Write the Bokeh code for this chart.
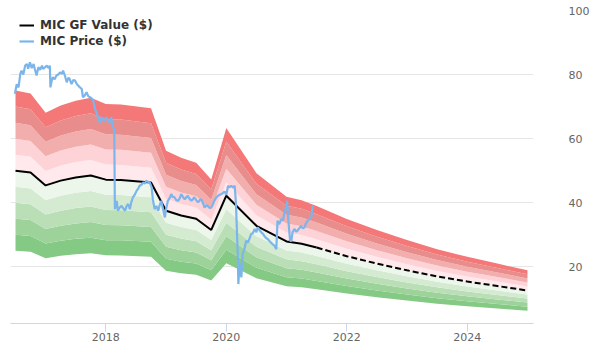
from bokeh.plotting import figure
from bokeh.models import Range1d, FixedTicker, Legend, LegendItem
from bokeh.embed import file_html
from bokeh.resources import INLINE

# GF Value (historic, solid)
gf_t = [2016.5, 2016.75, 2017.0, 2017.25, 2017.5, 2017.75, 2018.0, 2018.25, 2018.75,
        2019.0, 2019.25, 2019.5, 2019.75, 2020.0, 2020.5, 2021.0, 2021.25, 2021.5]
gf_v = [50.0, 49.4, 45.4, 46.9, 47.9, 48.5, 47.2, 47.1, 46.3,
        37.5, 36.0, 35.0, 31.5, 42.2, 32.8, 27.9, 27.2, 26.0]

# GF Value (projection, dashed)
proj_t = [2021.5, 2022.0, 2022.5, 2023.0, 2023.5, 2024.0, 2024.5, 2025.0]
proj_v = [26.0, 23.3, 21.0, 18.9, 17.0, 15.4, 14.0, 12.6]

# band multipliers and colours (from lowest to highest band)
band_factors = [0.5, 0.6, 0.7, 0.8, 0.9, 1.0, 1.1, 1.2, 1.3, 1.4, 1.5]
band_colors = ["#84c984", "#9dd39b", "#badfb7", "#d4ebd2", "#ecf6eb",
               "#ffe9ec", "#fdd3d7", "#f2adad", "#e98c8c", "#f47878"]

# MIC price
price_t = [2016.49, 2016.52, 2016.55, 2016.58, 2016.60, 2016.63, 2016.66, 2016.69, 2016.71, 2016.74,
           2016.77, 2016.80, 2016.82, 2016.85, 2016.88, 2016.91, 2016.94, 2016.96, 2016.99, 2017.02,
           2017.05, 2017.07, 2017.08, 2017.10, 2017.12, 2017.15, 2017.18, 2017.21, 2017.24, 2017.27,
           2017.29, 2017.32, 2017.35, 2017.38, 2017.40, 2017.43, 2017.46, 2017.49, 2017.52, 2017.54,
           2017.57, 2017.60, 2017.62, 2017.65, 2017.68, 2017.71, 2017.74, 2017.77, 2017.79, 2017.82,
           2017.85, 2017.87, 2017.90, 2017.93, 2017.96, 2017.98, 2018.01, 2018.04, 2018.07, 2018.09,
           2018.12, 2018.14, 2018.15, 2018.18, 2018.20, 2018.23, 2018.26, 2018.29, 2018.32, 2018.34,
           2018.37, 2018.40, 2018.42, 2018.45, 2018.48, 2018.51, 2018.54, 2018.56, 2018.59, 2018.62,
           2018.65, 2018.67, 2018.70, 2018.73, 2018.76, 2018.78, 2018.81, 2018.84, 2018.87, 2018.89,
           2018.92, 2018.95, 2018.98, 2019.00, 2019.03, 2019.06, 2019.09, 2019.11, 2019.14, 2019.17,
           2019.20, 2019.23, 2019.25, 2019.28, 2019.31, 2019.34, 2019.36, 2019.39, 2019.42, 2019.45,
           2019.47, 2019.50, 2019.53, 2019.56, 2019.58, 2019.61, 2019.64, 2019.67, 2019.69, 2019.72,
           2019.75, 2019.78, 2019.80, 2019.83, 2019.86, 2019.89, 2019.92, 2019.94, 2019.97, 2020.00,
           2020.03, 2020.05, 2020.08, 2020.11, 2020.14, 2020.16, 2020.19, 2020.20, 2020.22, 2020.25,
           2020.27, 2020.30, 2020.33, 2020.36, 2020.39, 2020.41, 2020.44, 2020.47, 2020.50, 2020.52,
           2020.55, 2020.58, 2020.61, 2020.63, 2020.66, 2020.69, 2020.72, 2020.74, 2020.77, 2020.80,
           2020.83, 2020.85, 2020.88, 2020.91, 2020.94, 2020.96, 2020.99, 2021.01, 2021.03, 2021.06,
           2021.08, 2021.10, 2021.13, 2021.16, 2021.18, 2021.21, 2021.24, 2021.27, 2021.30, 2021.32,
           2021.35, 2021.38, 2021.41, 2021.43, 2021.44]
price_v = [74.0, 77.0, 76.0, 80.2, 81.2, 80.0, 82.8, 83.3, 81.8, 83.8,
           82.0, 83.3, 81.8, 79.7, 82.3, 81.5, 82.8, 81.8, 82.3, 82.8,
           82.0, 82.8, 76.0, 78.0, 79.2, 78.5, 79.7, 80.0, 80.7, 80.2,
           81.2, 79.7, 77.6, 79.0, 78.6, 77.0, 78.3, 78.1, 77.0, 76.6,
           76.0, 75.5, 72.9, 73.5, 74.5, 73.2, 72.9, 72.5, 71.9, 69.3,
           68.0, 66.7, 65.1, 66.7, 65.8, 65.6, 66.7, 65.5, 65.1, 66.7,
           63.5, 62.5, 38.0, 40.6, 37.5, 38.5, 39.0, 38.2, 37.5, 38.8,
           39.6, 38.0, 40.0, 41.7, 42.5, 43.7, 44.5, 45.3, 45.6, 46.3,
           46.0, 46.9, 46.5, 46.3, 44.8, 41.1, 38.0, 39.0, 37.5, 39.0,
           40.6, 38.0, 35.4, 38.0, 40.6, 41.5, 42.7, 41.8, 41.7, 40.8,
           40.6, 41.5, 42.7, 41.8, 41.1, 41.8, 42.2, 41.2, 40.6, 41.2,
           41.7, 40.8, 40.1, 40.8, 41.1, 40.0, 38.5, 39.2, 39.0, 38.4,
           38.5, 39.6, 40.6, 41.5, 42.2, 42.5, 42.7, 43.0, 43.5, 42.5,
           45.3, 44.8, 45.3, 44.8, 45.3, 39.6, 24.0, 14.6, 20.8, 16.7,
           24.0, 25.5, 28.1, 27.6, 29.0, 30.2, 30.5, 31.8, 30.8, 32.3,
           31.5, 30.8, 30.2, 29.7, 29.0, 28.6, 28.0, 27.6, 27.0, 26.6,
           25.5, 34.4, 33.3, 34.9, 34.4, 36.5, 38.5, 40.6, 34.4, 28.1,
           28.1, 30.8, 31.8, 31.0, 31.25, 32.0, 32.8, 32.0, 32.3, 33.5,
           34.4, 34.8, 35.4, 38.5, 39.0]

y_ticks = [20, 40, 60, 80, 100]
x_ticks = [2018, 2020, 2022, 2024]

FONT = "DejaVu Sans"

p = figure(width=592, height=352, output_backend="svg", toolbar_location=None,
           x_range=Range1d(2016.417, 2025.10), y_range=Range1d(2.3, 100),
           y_axis_location="right",
           min_border_left=10, min_border_top=10, min_border_right=58, min_border_bottom=29)
p.outline_line_color = None
p.background_fill_color = "white"

# bands
all_t = gf_t + proj_t[1:]
all_v = gf_v + proj_v[1:]
for i, col in enumerate(band_colors):
    lo = [v * band_factors[i] for v in all_v]
    hi = [v * band_factors[i + 1] for v in all_v]
    p.varea(x=all_t, y1=lo, y2=hi, fill_color=col, fill_alpha=1.0)

gf_line = p.line(gf_t, gf_v, line_color="black", line_width=2)
p.line(proj_t, proj_v, line_color="black", line_width=2, line_dash="6 3")
price_line = p.line(price_t, price_v, line_color="#7cb5ec", line_width=2.2)

# axes
p.xaxis.ticker = FixedTicker(ticks=x_ticks)
p.xaxis.axis_line_color = "#ccd6eb"
p.xaxis.major_tick_line_color = "#ccd6eb"
p.xaxis.major_tick_out = 8
p.xaxis.major_tick_in = 0
p.xaxis.minor_tick_line_color = None
p.xaxis.major_label_standoff = 1
p.xaxis.major_label_text_color = "#666666"
p.xaxis.major_label_text_font_size = "11px"
p.xaxis.major_label_text_font = FONT

p.yaxis.ticker = FixedTicker(ticks=y_ticks)
p.yaxis.axis_line_color = None
p.yaxis.major_tick_line_color = None
p.yaxis.minor_tick_line_color = None
p.yaxis.major_tick_out = 0
p.yaxis.major_tick_in = 0
p.yaxis.major_label_standoff = 35
p.yaxis.major_label_text_color = "#666666"
p.yaxis.major_label_text_font_size = "11px"
p.yaxis.major_label_text_font = FONT

p.xgrid.visible = False
p.ygrid.ticker = FixedTicker(ticks=y_ticks)
p.ygrid.grid_line_color = "#e6e6e6"

legend = Legend(items=[LegendItem(label="MIC GF Value ($)", renderers=[gf_line]),
                       LegendItem(label="MIC Price ($)", renderers=[price_line])],
                location=(9, 275))
legend.margin = 0
legend.padding = 0
legend.spacing = 2
legend.label_height = 14
legend.glyph_height = 14
legend.glyph_width = 15
legend.label_standoff = 6
legend.border_line_alpha = 0
legend.background_fill_alpha = 0
legend.label_text_font_size = "12px"
legend.label_text_font_style = "bold"
legend.label_text_color = "#333333"
legend.label_text_font = FONT
p.add_layout(legend)

open("out.html", "w").write(file_html(p, INLINE))
